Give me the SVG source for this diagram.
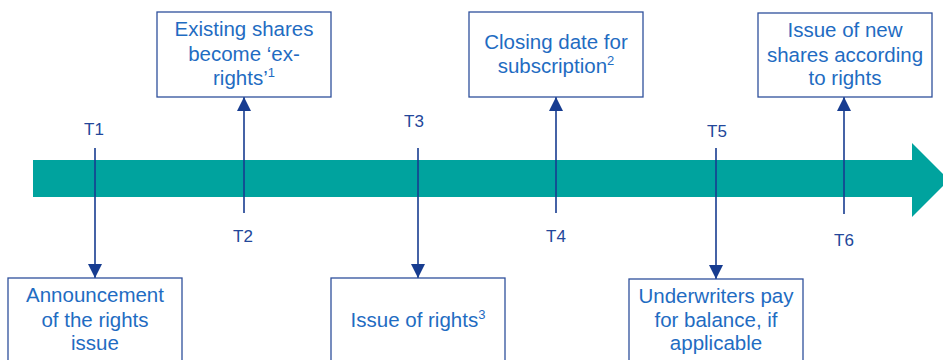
<svg xmlns="http://www.w3.org/2000/svg" width="943" height="360" viewBox="0 0 943 360">
<style>
.box{fill:#ffffff;stroke:#2f509c;stroke-width:1.3}
.bt{font-family:"Liberation Sans",Arial,sans-serif;font-size:20.5px;fill:#1f6cc2;text-anchor:middle}
.sup{font-size:13px}
.tl{font-family:"Liberation Sans",Arial,sans-serif;font-size:17px;fill:#23479a;text-anchor:middle}
.ln{stroke:#173c90;stroke-width:1.6;fill:none}
</style>
<defs>
<marker id="ah" viewBox="0 0 14 16" refX="14" refY="8" markerWidth="14" markerHeight="16" markerUnits="userSpaceOnUse" orient="auto">
<path d="M0,1 L14,8 L0,15 Z" fill="#173c90"/>
</marker>
</defs>
<g id="timeline">
<path d="M33,160 L912,160 L912,143 L949,180 L912,217 L912,197 L33,197 Z" fill="#00a39e"/>
</g>
<g id="connectors">
<line class="ln" x1="95" y1="148" x2="95" y2="278" marker-end="url(#ah)"/>
<line class="ln" x1="244" y1="213" x2="244" y2="97" marker-end="url(#ah)"/>
<line class="ln" x1="418" y1="148" x2="418" y2="278" marker-end="url(#ah)"/>
<line class="ln" x1="556" y1="213" x2="556" y2="97" marker-end="url(#ah)"/>
<line class="ln" x1="716" y1="148" x2="716" y2="279" marker-end="url(#ah)"/>
<line class="ln" x1="844" y1="214" x2="844" y2="97" marker-end="url(#ah)"/>
</g>
<g id="labels">
<text class="tl" x="94" y="135">T1</text>
<text class="tl" x="243" y="242">T2</text>
<text class="tl" x="414" y="127">T3</text>
<text class="tl" x="556" y="242">T4</text>
<text class="tl" x="717" y="137">T5</text>
<text class="tl" x="844" y="246">T6</text>
</g>
<g id="node-t1">
<rect class="box" x="8" y="278" width="174" height="90"/>
<text class="bt" x="95" y="302">Announcement</text>
<text class="bt" x="95" y="327">of the rights</text>
<text class="bt" x="95" y="350">issue</text>
</g>
<g id="node-t2">
<rect class="box" x="157" y="12" width="174" height="85"/>
<text class="bt" x="244" y="36">Existing shares</text>
<text class="bt" x="244" y="61">become ‘ex-</text>
<text class="bt" x="244" y="85">rights’<tspan class="sup" dy="-8">1</tspan></text>
</g>
<g id="node-t3">
<rect class="box" x="331" y="278" width="174" height="90"/>
<text class="bt" x="418" y="327">Issue of rights<tspan class="sup" dy="-8">3</tspan></text>
</g>
<g id="node-t4">
<rect class="box" x="469" y="12" width="174" height="85"/>
<text class="bt" x="556" y="49">Closing date for</text>
<text class="bt" x="556" y="73">subscription<tspan class="sup" dy="-8">2</tspan></text>
</g>
<g id="node-t5">
<rect class="box" x="629" y="279" width="174" height="90"/>
<text class="bt" x="716" y="303">Underwriters pay</text>
<text class="bt" x="716" y="327">for balance, if</text>
<text class="bt" x="716" y="350">applicable</text>
</g>
<g id="node-t6">
<rect class="box" x="758" y="13" width="174" height="84"/>
<text class="bt" x="845" y="37">Issue of new</text>
<text class="bt" x="845" y="62">shares according</text>
<text class="bt" x="845" y="85">to rights</text>
</g>
</svg>
